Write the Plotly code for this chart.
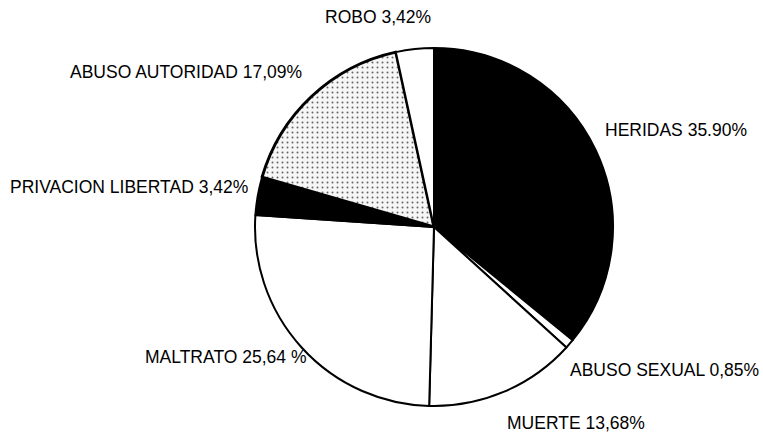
import plotly.graph_objects as go

categories = ["HERIDAS", "ABUSO SEXUAL", "MUERTE", "MALTRATO",
              "PRIVACION LIBERTAD", "ABUSO AUTORIDAD", "ROBO"]
values = [35.90, 0.85, 13.68, 25.64, 3.42, 17.09, 3.42]
label_texts = ["HERIDAS 35.90%", "ABUSO SEXUAL 0,85%", "MUERTE 13,68%",
               "MALTRATO 25,64 %", "PRIVACION LIBERTAD 3,42%",
               "ABUSO AUTORIDAD 17,09%", "ROBO 3,42%"]

W, H = 763, 439
colors = ["black", "white", "white", "white", "black", "#f6f6f6", "white"]
patterns = ["", "", "", "", "", ".", ""]

cx, cy, r = 434, 227, 179

fig = go.Figure(go.Pie(
    labels=categories, values=values, sort=False, direction="clockwise",
    rotation=0, textinfo="none", hoverinfo="label+percent",
    marker=dict(colors=colors, line=dict(color="black", width=[2, 2, 2, 2, 2, 3, 2]),
                pattern=dict(shape=patterns, fgcolor="#666666", bgcolor="#f6f6f6",
                             size=5, solidity=0.12)),
    domain=dict(x=[(cx - r) / W, (cx + r) / W], y=[(H - cy - r) / H, (H - cy + r) / H]),
    showlegend=False,
))

# label left-edge x and center y in pixels
label_pos = [(603, 130), (568, 370), (505, 423), (143, 357), (8, 187), (68, 72), (323, 17)]
font = dict(family="Liberation Sans, Arial, sans-serif", size=17.5, color="black")
for txt, (px, py) in zip(label_texts, label_pos):
    fig.add_annotation(text=txt, x=px / W, y=1 - py / H, xref="paper", yref="paper",
                       xanchor="left", yanchor="middle", showarrow=False, font=font)

fig.update_layout(width=W, height=H, margin=dict(l=0, r=0, t=0, b=0),
                  paper_bgcolor="white", plot_bgcolor="white")
fig.write_html("out.html", config={"displayModeBar": False},
               post_script="document.body.style.margin='0';")
